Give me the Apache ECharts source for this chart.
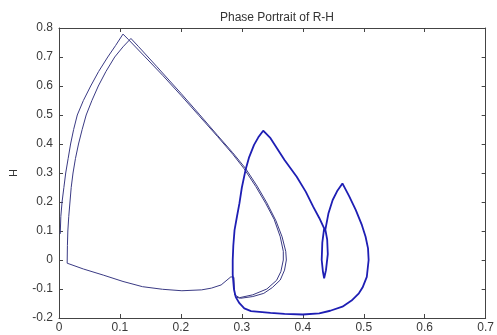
<!DOCTYPE html>
<html>
<head>
<meta charset="utf-8">
<script src="https://cdn.jsdelivr.net/npm/echarts@6/dist/echarts.min.js"></script>
<style>
html, body { margin: 0; padding: 0; background: #fff; }
#chart { width: 497px; height: 335px; }
</style>
</head>
<body>
<div id="chart"></div>
<script>
// phase portrait R-H, points as [R, H]
const xTicks = [0, 0.1, 0.2, 0.3, 0.4, 0.5, 0.6, 0.7]
const yTicks = [-0.2, -0.1, 0, 0.1, 0.2, 0.3, 0.4, 0.5, 0.6, 0.7, 0.8]

// first big loop (outer left branch)
const firstLoop = [
  [0.002, 0.09], [0.003, 0.15], [0.005, 0.2], [0.008, 0.25], [0.011, 0.3], [0.015, 0.35],
  [0.019, 0.4], [0.024, 0.45], [0.030, 0.5], [0.040, 0.55], [0.052, 0.6], [0.065, 0.65],
  [0.080, 0.7], [0.093, 0.74], [0.105, 0.779], [0.114, 0.76], [0.14, 0.703], [0.17, 0.637],
  [0.2, 0.568], [0.23, 0.497], [0.26, 0.426], [0.285, 0.365], [0.304, 0.314], [0.323, 0.253],
  [0.339, 0.196], [0.353, 0.14], [0.363, 0.08], [0.368, 0.03], [0.368, 0.0], [0.364, -0.04],
  [0.357, -0.07], [0.341, -0.1], [0.318, -0.12], [0.296, -0.13], [0.288, -0.12], [0.287, -0.06],
  [0.282, -0.058]
]

// return along the bottom
const bottomPath = [
  [0.282, -0.058], [0.266, -0.086], [0.25, -0.097], [0.234, -0.103], [0.2016, -0.106],
  [0.17, -0.101], [0.137, -0.092], [0.105, -0.074], [0.0726, -0.052], [0.04, -0.031],
  [0.0134, -0.011]
]

// second big loop (inner left branch)
const secondLoop = [
  [0.0134, -0.011], [0.0138, 0.05], [0.0145, 0.1], [0.016, 0.15], [0.018, 0.2], [0.020, 0.25],
  [0.023, 0.3], [0.027, 0.35], [0.032, 0.4], [0.038, 0.45], [0.0446, 0.5], [0.054, 0.55],
  [0.0645, 0.6], [0.077, 0.65], [0.0914, 0.7], [0.105, 0.735], [0.118, 0.764], [0.13, 0.737],
  [0.16, 0.668], [0.2, 0.575], [0.23, 0.503], [0.26, 0.43], [0.285, 0.37], [0.306, 0.316],
  [0.325, 0.255], [0.341, 0.197], [0.356, 0.135], [0.366, 0.08], [0.372, 0.03], [0.373, 0.0],
  [0.370, -0.035], [0.363, -0.069], [0.35, -0.095], [0.336, -0.115], [0.318, -0.126],
  [0.298, -0.132], [0.29, -0.128]
]

// settled cycle (two peaks)
const cycle = [
  [0.29, -0.128], [0.287, -0.1], [0.285, -0.05], [0.285, 0.0], [0.286, 0.05], [0.288, 0.103],
  [0.292, 0.15], [0.296, 0.195], [0.3, 0.25], [0.306, 0.31], [0.312, 0.355], [0.32, 0.397],
  [0.327, 0.423], [0.335, 0.446], [0.347, 0.42], [0.37, 0.345], [0.39, 0.287], [0.405, 0.235],
  [0.417, 0.184], [0.427, 0.145], [0.435, 0.109], [0.432, 0.06], [0.431, 0.0], [0.433, -0.04],
  [0.435, -0.063], [0.438, -0.035], [0.441, 0.02], [0.44, 0.07], [0.437, 0.105], [0.442, 0.16],
  [0.449, 0.207], [0.457, 0.24], [0.465, 0.264], [0.476, 0.22], [0.487, 0.172], [0.497, 0.12],
  [0.503, 0.08], [0.507, 0.04], [0.508, 0.0], [0.505, -0.058], [0.498, -0.095], [0.492, -0.115],
  [0.48, -0.14], [0.465, -0.161], [0.445, -0.175], [0.427, -0.184], [0.40, -0.188],
  [0.37, -0.186], [0.347, -0.182], [0.315, -0.176], [0.304, -0.167], [0.296, -0.149],
  [0.29, -0.128]
]

const chart = echarts.init(document.getElementById('chart'))

const fontFamily = '"Liberation Sans", Arial, sans-serif'
const axisColor = '#444'
const labelStyle = { color: '#3a3a3a', fontSize: 12, fontFamily: fontFamily }

const boxAxis = (extra) => Object.assign({
  type: 'value',
  axisLine: { show: true, onZero: false, lineStyle: { color: axisColor, width: 1 } },
  axisTick: { show: true, inside: true, length: 4, lineStyle: { color: axisColor } },
  splitLine: { show: false }
}, extra)

const xr = { min: 0, max: 0.7, interval: 0.1 }
const yr = { min: -0.2, max: 0.8, interval: 0.1 }

const fmt = (v) => String(Math.round(v * 10) / 10)

const lineSeries = (data, color, width) => ({
  type: 'line',
  data: data,
  showSymbol: false,
  symbol: 'none',
  smooth: false,
  animation: false,
  lineStyle: { color: color, width: width },
  xAxisIndex: 0,
  yAxisIndex: 0
})

chart.setOption({
  backgroundColor: '#fff',
  animation: false,
  title: {
    text: 'Phase Portrait of R-H',
    left: 272,
    top: 7,
    textAlign: 'center',
    textStyle: { fontSize: 12, fontWeight: 'normal', color: '#333', fontFamily: fontFamily }
  },
  grid: { left: 55, right: 8, top: 28, bottom: 17, containLabel: false },
  xAxis: [
    boxAxis(Object.assign({
      position: 'bottom',
      axisLabel: Object.assign({ margin: 4, formatter: fmt }, labelStyle)
    }, xr)),
    boxAxis(Object.assign({ position: 'top', axisLabel: { show: false } }, xr))
  ],
  yAxis: [
    boxAxis(Object.assign({
      position: 'left',
      name: 'H',
      nameLocation: 'middle',
      nameGap: 40,
      nameTextStyle: { color: '#333', fontSize: 11, fontFamily: fontFamily },
      axisLabel: Object.assign({ margin: 6, formatter: fmt }, labelStyle)
    }, yr)),
    boxAxis(Object.assign({ position: 'right', axisLabel: { show: false } }, yr))
  ],
  series: [
    lineSeries(firstLoop, '#3a3a84', 1),
    lineSeries(bottomPath, '#3a3a84', 1),
    lineSeries(secondLoop, '#3a3a84', 1),
    lineSeries(cycle, '#1e1eb4', 1.8)
  ]
})
</script>
</body>
</html>
